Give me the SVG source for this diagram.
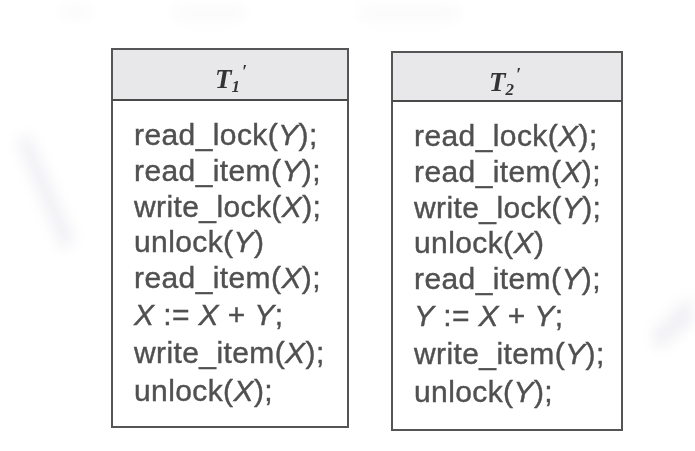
<svg xmlns="http://www.w3.org/2000/svg" width="695" height="451" viewBox="0 0 695 451">
  <style>
    .box { fill: #ffffff; stroke: #555555; stroke-width: 2; }
    .head { fill: #e8e8ea; stroke: none; }
    .rule { stroke: #4a4a4a; stroke-width: 2; }
    .op { font-family: "Liberation Sans", Arial, sans-serif; font-size: 30px; letter-spacing: 0.4px; fill: #505050; stroke: #505050; stroke-width: 0.4; }
    .v { font-style: italic; }
    .title { font-family: "Liberation Serif", "Times New Roman", serif; font-weight: bold; font-style: italic; fill: #333333; }
    .smudge { fill: #dcdce6; }
  </style>
  <defs>
    <filter id="soft" x="-50%" y="-50%" width="200%" height="200%">
      <feGaussianBlur stdDeviation="7"/>
    </filter>
  </defs>

  <rect width="695" height="451" fill="#ffffff"/>

  <!-- faint paper marks -->
  <g filter="url(#soft)" opacity="0.4">
    <path class="smudge" d="M16,140 L30,135 L75,240 L62,250 Z"/>
    <path class="smudge" d="M650,335 L690,295 L695,320 L660,350 Z"/>
    <rect class="smudge" x="62" y="8" width="30" height="8" opacity="0.5"/>
    <rect class="smudge" x="175" y="8" width="70" height="10" opacity="0.5"/>
    <rect class="smudge" x="360" y="8" width="100" height="10" opacity="0.5"/>
  </g>

  <!-- transaction T1' -->
  <g id="t1">
    <rect class="box" x="112" y="49" width="236" height="378"/>
    <rect class="head" x="113" y="50" width="234" height="50"/>
    <line class="rule" x1="112" y1="100" x2="348" y2="100"/>
    <text class="title" x="215" y="88" font-size="27">T<tspan font-size="17" dy="4">1</tspan><tspan font-size="18" dy="-14" dx="2">′</tspan></text>
    <text class="op" x="134" y="145">read_lock(<tspan class="v">Y</tspan>);</text>
    <text class="op" x="134" y="181">read_item(<tspan class="v">Y</tspan>);</text>
    <text class="op" x="134" y="217">write_lock(<tspan class="v">X</tspan>);</text>
    <text class="op" x="134" y="252">unlock(<tspan class="v">Y</tspan>)</text>
    <text class="op" x="134" y="288">read_item(<tspan class="v">X</tspan>);</text>
    <text class="op" x="134" y="325"><tspan class="v">X</tspan> := <tspan class="v">X</tspan> + <tspan class="v">Y</tspan>;</text>
    <text class="op" x="134" y="363">write_item(<tspan class="v">X</tspan>);</text>
    <text class="op" x="134" y="401">unlock(<tspan class="v">X</tspan>);</text>
  </g>

  <!-- transaction T2' -->
  <g id="t2">
    <rect class="box" x="392" y="52" width="230" height="378"/>
    <rect class="head" x="393" y="53" width="228" height="48"/>
    <line class="rule" x1="392" y1="101" x2="622" y2="101"/>
    <text class="title" x="489" y="91" font-size="27">T<tspan font-size="17" dy="4">2</tspan><tspan font-size="18" dy="-14" dx="2">′</tspan></text>
    <text class="op" x="414" y="146">read_lock(<tspan class="v">X</tspan>);</text>
    <text class="op" x="414" y="182">read_item(<tspan class="v">X</tspan>);</text>
    <text class="op" x="414" y="218">write_lock(<tspan class="v">Y</tspan>);</text>
    <text class="op" x="414" y="253">unlock(<tspan class="v">X</tspan>)</text>
    <text class="op" x="414" y="289">read_item(<tspan class="v">Y</tspan>);</text>
    <text class="op" x="414" y="326"><tspan class="v">Y</tspan> := <tspan class="v">X</tspan> + <tspan class="v">Y</tspan>;</text>
    <text class="op" x="414" y="364">write_item(<tspan class="v">Y</tspan>);</text>
    <text class="op" x="414" y="402">unlock(<tspan class="v">Y</tspan>);</text>
  </g>
</svg>
